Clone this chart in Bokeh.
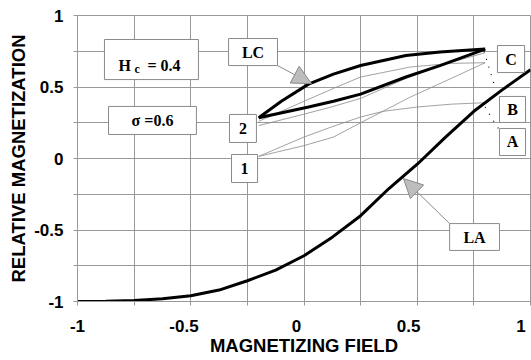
from bokeh.plotting import figure
from bokeh.models import Range1d, FixedTicker, Arrow, NormalHead, LinearAxis
from bokeh.core.properties import value
from bokeh.embed import file_html
from bokeh.resources import INLINE

# ---- data ----
la_x = [-1, -0.875, -0.75, -0.625, -0.5, -0.375, -0.25, -0.125, 0, 0.125, 0.25, 0.375, 0.5, 0.625, 0.75, 0.875, 1]
la_y = [-1.0, -0.998, -0.993, -0.98, -0.96, -0.92, -0.855, -0.78, -0.68, -0.55, -0.40, -0.21, -0.04, 0.15, 0.33, 0.48, 0.62]

lc_up_x = [-0.2, -0.1, 0.02, 0.13, 0.25, 0.45, 0.6, 0.8]
lc_up_y = [0.285, 0.40, 0.52, 0.59, 0.65, 0.72, 0.745, 0.765]
lc_lo_x = [-0.2, 0.02, 0.13, 0.25, 0.45, 0.6, 0.8]
lc_lo_y = [0.285, 0.36, 0.40, 0.45, 0.57, 0.65, 0.765]

thin_a_x = [-0.2, 0.0, 0.13, 0.25, 0.47, 0.65, 0.8]
thin_a_y = [0.26, 0.40, 0.49, 0.57, 0.64, 0.665, 0.67]
thin_b_x = [-0.2, 0.0, 0.12, 0.25, 0.45, 0.6, 0.8]
thin_b_y = [0.23, 0.31, 0.36, 0.42, 0.56, 0.65, 0.74]
thin_c_x = [-0.2, 0.0, 0.12, 0.25, 0.35, 0.5, 0.65, 0.8]
thin_c_y = [0.015, 0.15, 0.22, 0.29, 0.33, 0.36, 0.38, 0.39]
thin_d_x = [-0.2, 0.0, 0.13, 0.25, 0.47, 0.65, 0.8]
thin_d_y = [0.015, 0.09, 0.15, 0.25, 0.43, 0.56, 0.67]

dot1_x = [0.795, 0.82, 0.845]
dot1_y = [0.75, 0.62, 0.49]
dot2_x = [0.80, 0.83, 0.858]
dot2_y = [0.36, 0.28, 0.21]

grid_ticks = [-1, -0.75, -0.5, -0.25, 0, 0.25, 0.5, 0.75, 1]
label_values = [-1, -0.5, 0, 0.5, 1]
tick_labels = ["-1", "-0.5", "0", "0.5", "1"]

# annotation boxes: (left, right, bottom, top, text)
boxes = [
    (-0.881, -0.466, 0.552, 0.832, ""),
    (-0.863, -0.475, 0.168, 0.364, "\u03c3 =0.6"),
    (-0.333, -0.117, 0.650, 0.839, "LC"),
    (-0.329, -0.210, 0.112, 0.308, "2"),
    (-0.320, -0.205, -0.168, 0.028, "1"),
    (0.854, 0.974, 0.601, 0.790, "C"),
    (0.863, 0.978, 0.252, 0.434, "B"),
    (0.863, 0.978, 0.021, 0.210, "A"),
    (0.643, 0.863, -0.643, -0.455, "LA"),
]

# x tick labels sit a few pixels left of their grid lines in the reference
label_shift = [0.0, 0.03, 0.033, 0.038, 0.042]

p = figure(width=531, height=360, x_range=Range1d(-1, 1), y_range=Range1d(-1, 1),
           output_backend="svg", toolbar_location=None,
           min_border_left=77, min_border_right=1, min_border_top=15, min_border_bottom=59)
p.outline_line_color = "#999999"
p.background_fill_color = "white"


def style_labels(ax):
    ax.major_label_text_font = "Liberation Sans"
    ax.major_label_text_font_style = "bold"
    ax.major_label_text_font_size = "17px"
    ax.major_label_text_color = "black"
    ax.axis_label_text_font = "Liberation Sans"
    ax.axis_label_text_font_style = "bold"
    ax.axis_label_text_font_size = "18.5px"
    ax.axis_label_text_color = "black"


# y axis
ya = p.yaxis[0]
ya.ticker = FixedTicker(ticks=grid_ticks)
ya.major_label_overrides = {t: (tick_labels[label_values.index(t)] if t in label_values else "") for t in grid_ticks}
ya.axis_line_color = "#999999"
ya.major_tick_line_color = "#999999"
ya.major_tick_out = 4
ya.major_tick_in = 0
ya.minor_tick_line_color = None
style_labels(ya)
ya.axis_label = "RELATIVE MAGNETIZATION"
ya.major_label_standoff = 10
ya.axis_label_standoff = 2

# x axis: tick marks only
xa = p.xaxis[0]
xa.ticker = FixedTicker(ticks=grid_ticks)
xa.major_label_overrides = {t: "" for t in grid_ticks}
xa.major_label_text_font_size = "1px"
xa.major_label_standoff = 0
xa.axis_line_color = "#999999"
xa.major_tick_line_color = "#999999"
xa.major_tick_out = 4
xa.major_tick_in = 0
xa.minor_tick_line_color = None

# x axis: labels
label_pos = [round(v - s, 3) for v, s in zip(label_values, label_shift)]
xb = LinearAxis(ticker=FixedTicker(ticks=label_pos),
                major_label_overrides={pos: lab for pos, lab in zip(label_pos, tick_labels)},
                axis_line_color=None, major_tick_line_color=None, minor_tick_line_color=None,
                major_tick_out=0, major_tick_in=0, major_label_standoff=14,
                axis_label="MAGNETIZING FIELD", axis_label_standoff=0)
style_labels(xb)
p.add_layout(xb, "below")

for g in (p.xgrid[0], p.ygrid[0]):
    g.ticker = FixedTicker(ticks=grid_ticks)
    g.grid_line_color = "#999999"
    g.grid_line_width = 1

# thin minor loops
for xs, ys in ((thin_a_x, thin_a_y), (thin_b_x, thin_b_y), (thin_c_x, thin_c_y), (thin_d_x, thin_d_y)):
    p.line(xs, ys, line_color="#8a8a8a", line_width=0.8)

# thick curves
p.line(la_x, la_y, line_color="black", line_width=3)
p.line(lc_up_x, lc_up_y, line_color="black", line_width=3)
p.line(lc_lo_x, lc_lo_y, line_color="black", line_width=3)

# dotted leaders
p.line(dot1_x, dot1_y, line_color="black", line_width=1.2, line_dash="1 7")
p.line(dot2_x, dot2_y, line_color="black", line_width=1.2, line_dash="1 7")

# arrows
p.add_layout(Arrow(end=NormalHead(size=19, fill_color="#bdbdbd", line_color="#8a8a8a", line_width=1),
                   x_start=-0.117, y_start=0.650, x_end=0.033, y_end=0.524,
                   line_color="#8a8a8a", line_width=1))
p.add_layout(Arrow(end=NormalHead(size=19, fill_color="#bdbdbd", line_color="#8a8a8a", line_width=1),
                   x_start=0.643, y_start=-0.455, x_end=0.439, y_end=-0.14,
                   line_color="#8a8a8a", line_width=1))

# boxes
p.quad(left=[b[0] for b in boxes], right=[b[1] for b in boxes],
       bottom=[b[2] for b in boxes], top=[b[3] for b in boxes],
       fill_color="white", line_color="#8a8a8a", line_width=1)
p.text(x=[(b[0] + b[1]) / 2 for b in boxes], y=[(b[2] + b[3]) / 2 for b in boxes],
       text=[b[4] for b in boxes], text_align="center", text_baseline="middle",
       text_font=value("Liberation Serif"), text_font_style="bold", text_font_size="16px",
       text_color="black")

# H_c = 0.4 label with subscript
p.text(x=[-0.819], y=[0.650], text=["H"], text_align="left", text_baseline="alphabetic",
       text_font=value("Liberation Serif"), text_font_style="bold", text_font_size="16px")
p.text(x=[-0.748], y=[0.629], text=["c"], text_align="left", text_baseline="alphabetic",
       text_font=value("Liberation Serif"), text_font_style="bold", text_font_size="12px")
p.text(x=[-0.691], y=[0.650], text=["= 0.4"], text_align="left", text_baseline="alphabetic",
       text_font=value("Liberation Serif"), text_font_style="bold", text_font_size="16px")

open("out.html", "w").write(file_html(p, INLINE))
